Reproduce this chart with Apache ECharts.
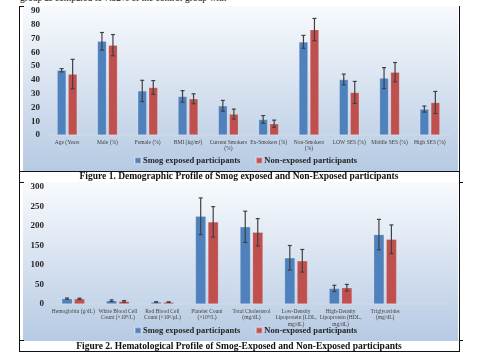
<!DOCTYPE html>
<html>
<head>
<meta charset="utf-8">
<script src="https://cdn.jsdelivr.net/npm/echarts@6/dist/echarts.min.js"></script>
<style>
  body { margin: 0; width: 478px; height: 353px; background: #fff; position: relative; overflow: hidden; font-family: "Liberation Serif", serif; }
  .chart { position: absolute; left: 23px; width: 435px; background: linear-gradient(to bottom, #f8fafd, #b6cae3); }
  #c1 { top: 6px; height: 165px; }
  #c2 { top: 182px; height: 159px; }
  .ln { position: absolute; background: #111; }
  .cap { position: absolute; left: 19px; width: 440px; text-align: center; font-weight: bold; font-size: 9.5px; line-height: 10px; color: #111; }
  .txt { position: absolute; left: 20px; top: -7px; font-size: 9.5px; line-height: 11px; color: #111; white-space: nowrap; }
</style>
</head>
<body>
<div class="txt">group as compared to 7.32% of the control group with</div>
<div id="c1" class="chart"></div>
<div id="c2" class="chart"></div>
<!-- table lines -->
<div class="ln" style="left:19px;top:6px;width:1.3px;height:346px"></div>
<div class="ln" style="left:459px;top:6px;width:1.3px;height:346px"></div>
<div class="ln" style="left:19px;top:6px;width:5px;height:1px"></div>
<div class="ln" style="left:19px;top:171px;width:441px;height:1.2px"></div>
<div class="ln" style="left:19px;top:182px;width:5px;height:1px"></div>
<div class="ln" style="left:459px;top:182px;width:4px;height:1px"></div>
<div class="ln" style="left:19px;top:340px;width:5px;height:1px"></div>
<div class="ln" style="left:459px;top:340px;width:4px;height:1px"></div>
<div class="ln" style="left:19px;top:351px;width:441px;height:1.2px"></div>
<div class="cap" style="top:171px">Figure 1. Demographic Profile of Smog exposed and Non-Exposed participants</div>
<div class="cap" style="top:340.5px">Figure 2. Hematological Profile of Smog-Exposed and Non-Exposed participants</div>
<script>
var seriesNames = ['Smog exposed participants', 'Non-exposed participants'];

// Figure 1 - demographic profile
var demoCategories = ['Age (Years', 'Male (%)', 'Female (%)', 'BMI (kg/m²)', 'Current Smokers\n(%)', 'Ex-Smokers (%)', 'Non-Smokers\n(%)', 'LOW SES (%)', 'Middle SES (%)', 'High SES (%)'];
var demoSmog = [47, 68, 32, 28, 21.2, 11.3, 67.6, 40.3, 41.3, 18.8];
var demoSmogErr = [1.2, 6.4, 7.7, 4.2, 3.9, 2.8, 4.7, 3.9, 7.6, 2.2];
var demoNon = [44.2, 65.2, 34.5, 26.3, 15.2, 8.2, 76.5, 30.9, 45.6, 23.6];
var demoNonErr = [10.7, 7.7, 5, 3.6, 3.6, 2.6, 8.1, 8, 7, 8];
var demoMax = 90, demoStep = 10;

// Figure 2 - hematological profile (last category is empty, as in the source sheet)
var hemaCategories = ['Hemoglobin (g/dL)', 'White Blood Cell\nCount (×10⁹/L)', 'Red Blood Cell\nCount (×10⁶/μL)', 'Platelet Count\n(×10⁹/L)', 'Total Cholesterol\n(mg/dL)', 'Low-Density\nLipoprotein (LDL,\nmg/dL)', 'High-Density\nLipoprotein (HDL,\nmg/dL)', 'Triglycerides\n(mg/dL)', ''];
var hemaSmog = [13.8, 8.5, 5, 225, 198, 118.5, 40, 178];
var hemaSmogErr = [1.5, 2, 0.6, 47, 40, 31.5, 8, 39];
var hemaNon = [13.4, 6.8, 4.8, 210.6, 184, 110.8, 41.8, 166];
var hemaNonErr = [1.5, 2, 0.6, 39, 35, 29, 8.5, 36.7];
var hemaMax = 300, hemaStep = 50;

var FONT = 'Liberation Serif';
var BLUE = '#4f81bd', RED = '#c0504d';

function errorSeries(means, errs, offset) {
  return {
    type: 'custom',
    silent: true,
    z: 10,
    renderItem: function (params, api) {
      var x = api.coord([api.value(0), 0])[0] + offset;
      var lo = api.coord([api.value(0), api.value(1)])[1];
      var hi = api.coord([api.value(0), api.value(2)])[1];
      var st = { stroke: '#404040', lineWidth: 1.2 };
      return {
        type: 'group',
        children: [
          { type: 'line', shape: { x1: x, y1: hi, x2: x, y2: lo }, style: st },
          { type: 'line', shape: { x1: x - 2, y1: hi, x2: x + 2, y2: hi }, style: st },
          { type: 'line', shape: { x1: x - 2, y1: lo, x2: x + 2, y2: lo }, style: st }
        ]
      };
    },
    data: means.map(function (m, i) { return [i, m - errs[i], m + errs[i]]; })
  };
}

function makeOption(c) {
  var off = (c.barWidth + 2) / 2;
  return {
    animation: false,
    grid: c.grid,
    legend: {
      data: seriesNames,
      left: 106,
      top: c.legendTop,
      icon: 'rect',
      itemWidth: 6,
      itemHeight: 6,
      itemGap: 15,
      textStyle: { fontFamily: FONT, fontWeight: 'bold', fontSize: 8.5, color: '#262626', padding: [0, 0, 0, -3] }
    },
    xAxis: {
      type: 'category',
      data: c.categories,
      axisTick: { show: false },
      axisLine: { lineStyle: { color: '#d0d9e6', width: 1.5 } },
      axisLabel: { interval: 0, fontFamily: FONT, fontSize: 5.5, lineHeight: 6.5, color: '#404040', margin: 4 }
    },
    yAxis: {
      type: 'value',
      min: 0,
      max: c.max,
      interval: c.step,
      splitLine: { show: false },
      axisLine: { show: false },
      axisLabel: { fontFamily: FONT, fontWeight: 'bold', fontSize: 9, color: '#262626', margin: 7 }
    },
    series: [
      { name: seriesNames[0], type: 'bar', data: c.smog, barWidth: c.barWidth, barGap: (2 / c.barWidth * 100) + '%',
        itemStyle: { color: BLUE, borderColor: 'rgba(255,255,255,0.3)', borderWidth: 0.6 } },
      { name: seriesNames[1], type: 'bar', data: c.non, barWidth: c.barWidth,
        itemStyle: { color: RED, borderColor: 'rgba(255,255,255,0.3)', borderWidth: 0.6 } },
      errorSeries(c.smog, c.smogErr, -off),
      errorSeries(c.non, c.nonErr, off)
    ]
  };
}

var chart1 = echarts.init(document.getElementById('c1'));
chart1.setOption(makeOption({
  categories: demoCategories, smog: demoSmog, smogErr: demoSmogErr, non: demoNon, nonErr: demoNonErr,
  max: demoMax, step: demoStep, barWidth: 9, legendTop: 145,
  grid: { left: 24, right: 8, top: 5, bottom: 36 }
}));

var chart2 = echarts.init(document.getElementById('c2'));
chart2.setOption(makeOption({
  categories: hemaCategories, smog: hemaSmog, smogErr: hemaSmogErr, non: hemaNon, nonErr: hemaNonErr,
  max: hemaMax, step: hemaStep, barWidth: 10.5, legendTop: 139,
  grid: { left: 28, right: 6, top: 5, bottom: 37 }
}));
</script>
</body>
</html>
